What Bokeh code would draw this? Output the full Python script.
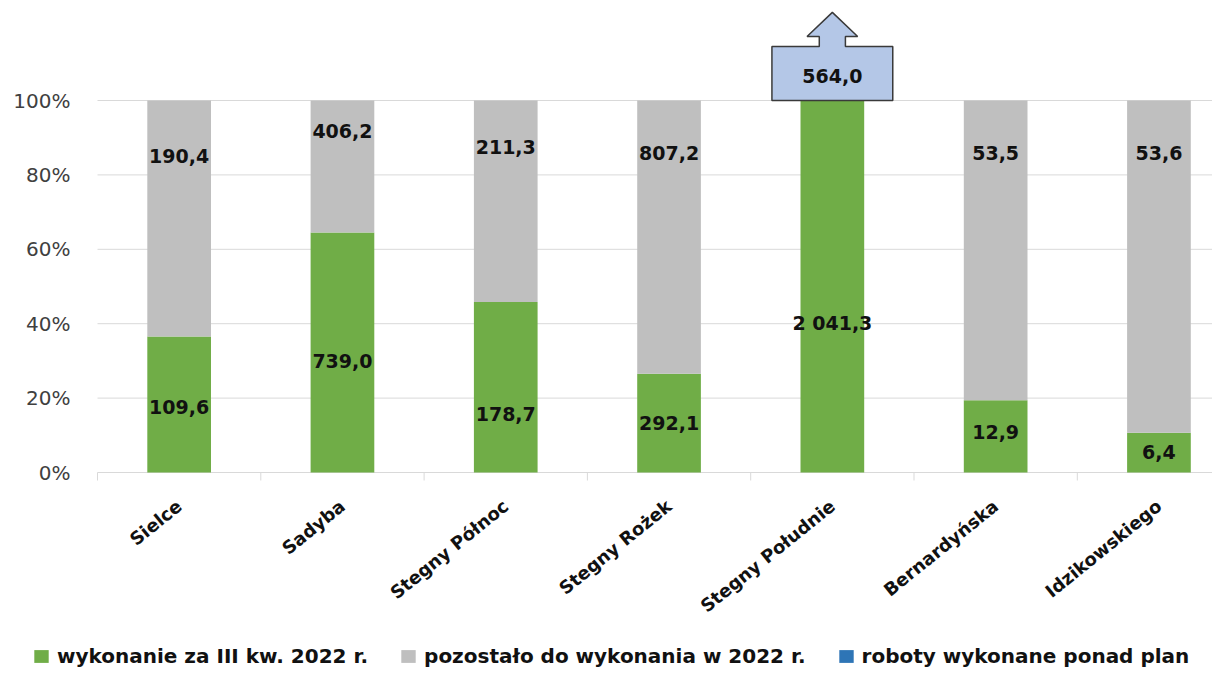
from bokeh.plotting import figure
from bokeh.models import ColumnDataSource, Range1d, Legend, LegendItem
from bokeh.core.properties import value
from bokeh.embed import file_html
from bokeh.resources import INLINE

# ---------------- data ----------------
categories = ["Sielce", "Sadyba", "Stegny Północ", "Stegny Rożek",
              "Stegny Południe", "Bernardyńska", "Idzikowskiego"]
done = [109.6, 739.0, 178.7, 292.1, 2041.3, 12.9, 6.4]          # wykonanie za III kw. 2022 r.
remaining = [190.4, 406.2, 211.3, 807.2, 0.0, 53.5, 53.6]       # pozostało do wykonania w 2022 r.
over_plan = [0.0, 0.0, 0.0, 0.0, 564.0, 0.0, 0.0]               # roboty wykonane ponad plan
y_ticks = [0, 0.2, 0.4, 0.6, 0.8, 1.0]
y_tick_labels = ["0%", "20%", "40%", "60%", "80%", "100%"]
series_names = ["wykonanie za III kw. 2022 r.", "pozostało do wykonania w 2022 r.",
                "roboty wykonane ponad plan"]

# label placement (fraction of bar height) as in the original chart
done_label_pos = [0.175, 0.301, 0.156, 0.134, 0.403, 0.110, 0.054]
rest_label_pos = [0.852, 0.919, 0.876, 0.860, None, 0.860, 0.860]

GREEN, GRAY, BLUE = "#70ad47", "#bfbfbf", "#2e75b6"
GRID = "#d9d9d9"
FONT = "DejaVu Sans"
TXT = "#111111"


def fmt(v):
    return f"{v:,.1f}".replace(",", " ").replace(".", ",")


n = len(categories)
xs = [i + 0.5 for i in range(n)]
totals = [d + r for d, r in zip(done, remaining)]
done_frac = [d / t for d, t in zip(done, totals)]

W, H = 1212, 670
PX_X, PX_Y = 163.3, 372.0          # pixels per category / per 100 %
LEFT, BASE = 97, 472               # pixel position of the plot area origin
x_end = (W - LEFT) / PX_X

src = ColumnDataSource(dict(x=xs, done_frac=done_frac, top=[1.0] * n))

p = figure(width=W, height=H,
           x_range=Range1d(-LEFT / PX_X, x_end),
           y_range=Range1d(-(H - BASE) / PX_Y, BASE / PX_Y),
           x_axis_location=None, y_axis_location=None,
           output_backend="svg", toolbar_location=None,
           min_border_left=0, min_border_right=0, min_border_top=0, min_border_bottom=0)
p.outline_line_color = None
p.background_fill_color = "white"
p.grid.visible = False

# horizontal gridlines and category separator ticks
p.segment(x0=[0] * len(y_ticks), x1=[x_end] * len(y_ticks), y0=y_ticks, y1=y_ticks,
          line_color=GRID, line_width=1)
seps = list(range(n + 1))
p.segment(x0=seps, x1=seps, y0=[0] * len(seps), y1=[-8 / PX_Y] * len(seps),
          line_color=GRID, line_width=1)

# bars
g = p.vbar(x="x", bottom=0, top="done_frac", width=0.39, fill_color=GREEN,
           line_color=None, source=src)
r = p.vbar(x="x", bottom="done_frac", top="top", width=0.39, fill_color=GRAY,
           line_color=None, source=src)
b = p.vbar(x="x", bottom="top", top="top", width=0.39, fill_color=BLUE,
           line_color=None, source=src)   # over-plan series: beyond the 100 % scale

# y tick labels
p.text(x=[0] * len(y_ticks), y=y_ticks, text=y_tick_labels, x_offset=-27,
       text_align="right", text_baseline="middle", text_font=value(FONT),
       text_font_size="20px", text_color="#404040")

# category labels (rotated)
p.text(x=xs, y=[0] * n, text=categories, y_offset=31, angle=0.68,
       text_align="right", text_baseline="middle", text_font=value(FONT),
       text_font_style="bold", text_font_size="18px", text_color=TXT)

# value labels
dl = ColumnDataSource(dict(x=xs, y=done_label_pos, t=[fmt(v) for v in done]))
p.text(x="x", y="y", text="t", source=dl, text_align="center", text_baseline="middle",
       text_font=value(FONT), text_font_style="bold", text_font_size="19px", text_color=TXT)

rx, ry, rt = [], [], []
for i in range(n):
    if remaining[i] > 0:
        rx.append(xs[i]); ry.append(rest_label_pos[i]); rt.append(fmt(remaining[i]))
p.text(x=rx, y=ry, text=rt, text_align="center", text_baseline="middle",
       text_font=value(FONT), text_font_style="bold", text_font_size="19px", text_color=TXT)

# callout arrow for work beyond plan
for i in range(n):
    if over_plan[i] > 0:
        cx = xs[i]
        bx, sx, wx = 0.37, 0.08, 0.155
        y0, y1, y2, y3 = 1.0, 1.145, 1.172, 1.237
        px = [cx - bx, cx + bx, cx + bx, cx + sx, cx + sx, cx + wx, cx,
              cx - wx, cx - sx, cx - sx, cx - bx]
        py = [y0, y0, y1, y1, y2, y2, y3, y2, y2, y1, y1]
        p.patch(px, py, fill_color="#b4c7e7", line_color="#3a3a3a", line_width=1.5)
        p.text(x=[cx], y=[1.066], text=[fmt(over_plan[i])], text_align="center",
               text_baseline="middle", text_font=value(FONT), text_font_style="bold",
               text_font_size="19px", text_color=TXT)

# legend
legend = Legend(items=[LegendItem(label=series_names[0], renderers=[g]),
                       LegendItem(label=series_names[1], renderers=[r]),
                       LegendItem(label=series_names[2], renderers=[b])],
                orientation="horizontal", location=(32, 2),
                label_text_font=FONT, label_text_font_style="bold",
                label_text_font_size="20px", label_text_color=TXT,
                glyph_width=18, glyph_height=16, label_height=16, label_standoff=7,
                spacing=31, padding=0, margin=0, border_line_color=None,
                background_fill_alpha=0)
p.add_layout(legend, "center")

open("out.html", "w").write(file_html(p, INLINE))
